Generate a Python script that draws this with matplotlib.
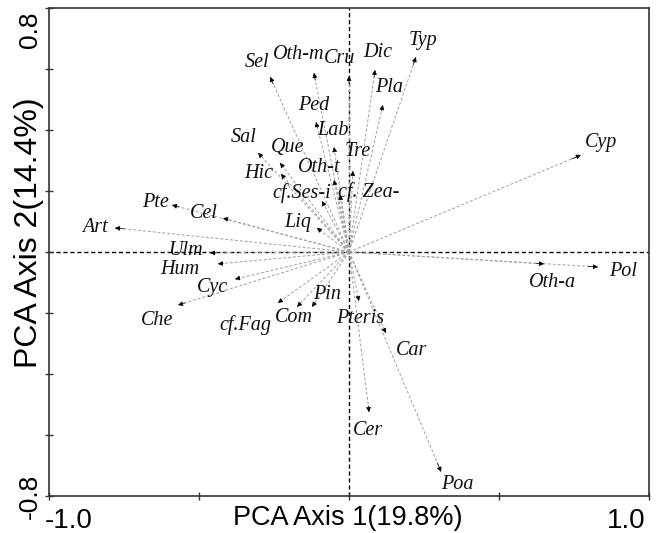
import numpy as np
import matplotlib
matplotlib.use('Agg')
import matplotlib.pyplot as plt
import matplotlib.transforms as mtransforms

# taxa and their PCA loadings (axis 1, axis 2)
taxa = ['Typ', 'Dic', 'Cru', 'Oth-m', 'Sel', 'Pla', 'Ped', 'Lab', 'Tre',
        'Sal', 'Que', 'Hic', 'Oth-t', 'cf. Zea-', 'cf.Ses-i', 'Liq',
        'Pte', 'Cel', 'Art', 'Ulm', 'Hum', 'Cyc', 'Che', 'cf.Fag', 'Com',
        'Pin', 'Pteris', 'Car', 'Cer', 'Poa', 'Cyp', 'Oth-a', 'Pol']
axis1 = [0.223, 0.087, 0.000, -0.117, -0.263, 0.113, -0.110, -0.050, 0.013,
         -0.303, -0.230, -0.227, -0.050, -0.030, -0.090, -0.107,
         -0.590, -0.420, -0.780, -0.463, -0.437, -0.380, -0.570, -0.237, -0.173,
         -0.123, 0.033, 0.123, 0.067, 0.307, 0.773, 0.650, 0.830]
axis2 = [0.639, 0.597, 0.577, 0.587, 0.574, 0.482, 0.426, 0.344, 0.266,
         0.325, 0.292, 0.256, 0.236, 0.187, 0.167, 0.079,
         0.154, 0.111, 0.079, -0.003, -0.039, -0.089, -0.174, -0.167, -0.180,
         -0.180, -0.161, -0.266, -0.525, -0.721, 0.318, -0.039, -0.049]

xlabel = 'PCA Axis 1(19.8%)'
ylabel = 'PCA Axis 2(14.4%)'

# where each label sits relative to its arrow tip (pixels)
label_offsets = {
    'Typ': (7, 17), 'Dic': (3, 17), 'Cru': (-9, 18), 'Oth-m': (-15, 18),
    'Sel': (-13, 14), 'Pla': (6, 17), 'Ped': (-2, 17), 'Lab': (-1, 17),
    'Tre': (5, 19), 'Sal': (-14, 15), 'Que': (8, 15), 'Hic': (-22, 0),
    'Oth-t': (-15, 13), 'cf. Zea-': (29, 3), 'cf.Ses-i': (-20, 8),
    'Liq': (-19, 5), 'Pte': (-17, 3), 'Cel': (-19, 5), 'Art': (-20, 0),
    'Ulm': (-25, 2), 'Hum': (-38, -6), 'Cyc': (-23, -8), 'Che': (-21, -15),
    'cf.Fag': (-33, -22), 'Com': (-3, -11), 'Pin': (15, 12),
    'Pteris': (1, -17), 'Car': (26, -17), 'Cer': (-1, -18), 'Poa': (16, -13),
    'Cyp': (20, 13), 'Oth-a': (9, -19), 'Pol': (25, -5),
}

fig = plt.figure(figsize=(6.59, 5.33), dpi=100)
ax = fig.add_axes([49 / 659, 37 / 533, 600 / 659, 488 / 533])
ax.set_xlim(-1.0, 1.0)
ax.set_ylim(-0.8, 0.8)

ax.axhline(0, color='black', lw=1.0, ls=(0, (3, 2)), zorder=1)
ax.axvline(0, color='black', lw=1.0, ls=(0, (3, 2)), zorder=1)

for name, x, y in zip(taxa, axis1, axis2):
    ax.plot([0, x], [0, y], color='#a0a0a0', lw=0.7, ls=(0, (3, 2)), zorder=2)
    ax.annotate('', xy=(x, y), xytext=(x * 0.96, y * 0.96),
                arrowprops=dict(arrowstyle='-|>', color='black', lw=0.5,
                                mutation_scale=7, shrinkA=0, shrinkB=0),
                zorder=3)
    dx, dy = label_offsets[name]
    ax.annotate(name, xy=(x, y), xytext=(dx, dy), textcoords='offset pixels',
                ha='center', va='center', fontsize=14.5, style='italic',
                family='Liberation Serif', color='#111111', zorder=4)

ax.set_xticks([-1.0, -0.5, 0.0, 0.5, 1.0])
ax.set_xticklabels(['-1.0', '', '', '', '1.0'])
ax.set_yticks(np.linspace(-0.8, 0.8, 9))
ax.set_yticklabels(['-0.8'] + [''] * 7 + ['0.8'], rotation=90)
ax.tick_params(direction='inout', length=6, width=1, color='#333333',
               labelsize=19, pad=2)
ax.tick_params(axis='x', pad=6, labelsize=20)
for lab in ax.get_xticklabels() + ax.get_yticklabels():
    lab.set_family('Liberation Sans')

# keep end labels inside the figure
xl = ax.get_xticklabels()
xl[0].set_transform(xl[0].get_transform() +
                    mtransforms.ScaledTranslation(20 / 100, 0, fig.dpi_scale_trans))
xl[-1].set_transform(xl[-1].get_transform() +
                     mtransforms.ScaledTranslation(-23 / 100, 0, fig.dpi_scale_trans))
yl = ax.get_yticklabels()
yl[-1].set_va('top')
yl[-1].set_transform(yl[-1].get_transform() +
                     mtransforms.ScaledTranslation(0, -4 / 100, fig.dpi_scale_trans))
yl[0].set_va('center')

ax.set_xlabel(xlabel, fontsize=19.5, family='Liberation Sans', va='center')
ax.xaxis.set_label_coords(0.498, -0.046)
ax.set_ylabel(ylabel, fontsize=23, family='Liberation Sans', va='center')
ax.yaxis.set_label_coords(-0.034, 0.54)

for sp in ax.spines.values():
    sp.set_color('#333333')
    sp.set_linewidth(1.2)

fig.savefig('out.png', dpi=100)
